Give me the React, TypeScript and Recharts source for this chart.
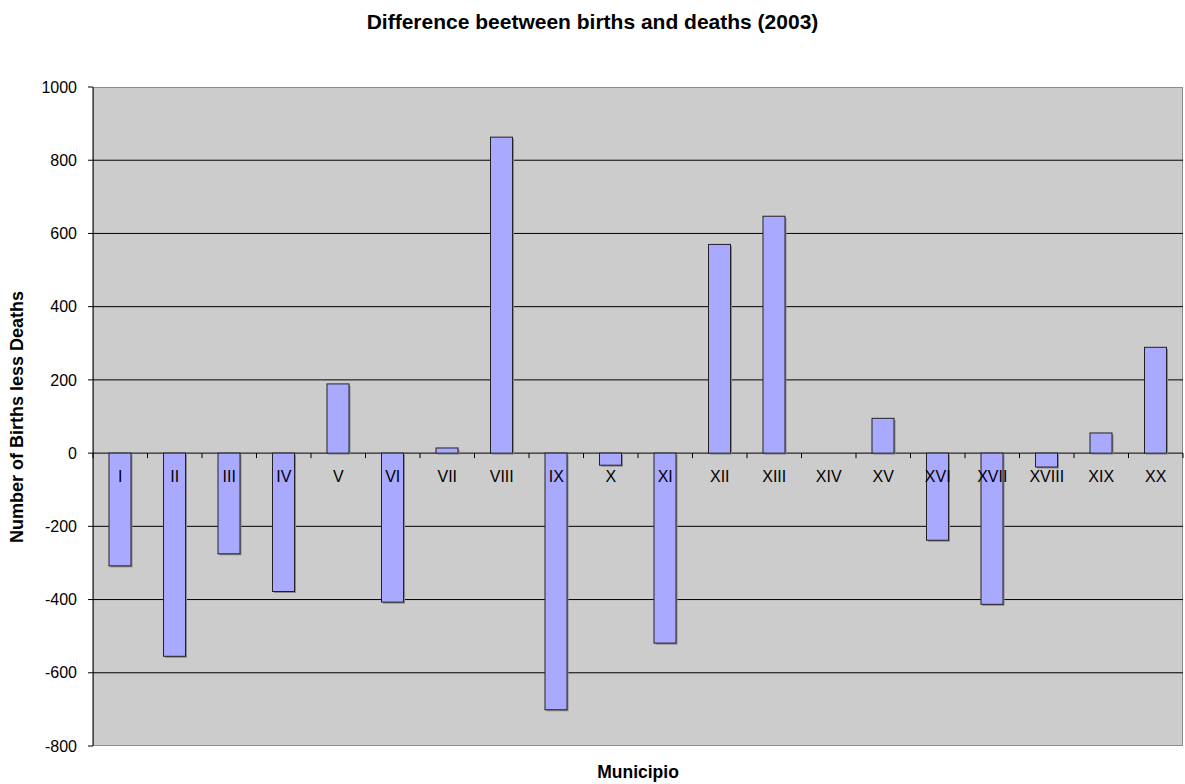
import React from "react";
import {
  BarChart,
  Bar,
  XAxis,
  YAxis,
  CartesianGrid,
} from "recharts";

const municipi = [
  "I", "II", "III", "IV", "V", "VI", "VII", "VIII", "IX", "X",
  "XI", "XII", "XIII", "XIV", "XV", "XVI", "XVII", "XVIII", "XIX", "XX",
];
const diff = [
  -308, -555, -275, -378, 189, -407, 14, 863, -701, -33,
  -519, 570, 647, 0, 95, -238, -413, -38, 55, 289,
];
const yTicks = [-800, -600, -400, -200, 0, 200, 400, 600, 800, 1000];
const gridValues = [-600, -400, -200, 0, 200, 400, 600, 800];
const Y_MIN = -800;
const Y_MAX = 1000;

const data = municipi.map((name, i) => ({ name, value: diff[i] }));

const W = 1185;
const H = 784;
const M = { top: 87, right: 2, bottom: 37, left: 0 };
const AXIS_W = 93;
const PLOT_W = W - M.left - M.right - AXIS_W;
const PLOT_H = H - M.top - M.bottom - 1; // x axis strip takes 1px
const BAND = PLOT_W / municipi.length;
const FONT = "'Liberation Sans', Arial, sans-serif";

// x axis labels sit along the zero line, not the plot bottom
function CategoryTick(props: any) {
  const { x, y, payload, index } = props;
  const zeroY = y - (PLOT_H * (0 - Y_MIN)) / (Y_MAX - Y_MIN);
  const left = x - BAND / 2;
  return (
    <g>
      <line x1={left} y1={zeroY} x2={left} y2={zeroY + 5} stroke="#000" />
      {index === municipi.length - 1 && (
        <line x1={left + BAND} y1={zeroY} x2={left + BAND} y2={zeroY + 5} stroke="#000" />
      )}
      <text x={x} y={zeroY + 29} textAnchor="middle" fontSize={16} fontFamily={FONT} fill="#000">
        {payload.value}
      </text>
    </g>
  );
}

function ShadowBar(props: any) {
  const { x, y, width, height, fill } = props;
  if (!height) return null;
  const top = Math.min(y, y + height);
  const h = Math.abs(height);
  return (
    <g>
      <rect x={x + 1.5} y={top + 1.5} width={width} height={h} fill="#8a8a8a" />
      <rect x={x} y={top} width={width} height={h} fill={fill} stroke="#222" strokeWidth={1} />
    </g>
  );
}

export default function App() {
  return (
    <div style={{ position: "absolute", left: 0, top: 0, width: W, height: H, background: "#fff", fontFamily: FONT }}>
      <div
        style={{
          position: "absolute",
          left: AXIS_W,
          top: M.top,
          width: PLOT_W,
          height: PLOT_H,
          boxSizing: "border-box",
          background: "#cccccc",
          border: "1.5px solid #8c8c8c",
        }}
      />
      <div style={{ position: "absolute", left: 0, top: 10, width: W, textAlign: "center", fontWeight: "bold", fontSize: 21 }}>
        Difference beetween births and deaths (2003)
      </div>
      <div style={{ position: "absolute", left: AXIS_W, top: 762, width: PLOT_W, textAlign: "center", fontWeight: "bold", fontSize: 17.5 }}>
        Municipio
      </div>
      <div
        style={{
          position: "absolute",
          left: 17,
          top: M.top + PLOT_H / 2,
          transform: "translate(-50%, -50%) rotate(-90deg)",
          whiteSpace: "nowrap",
          fontWeight: "bold",
          fontSize: 18,
        }}
      >
        Number of Births less Deaths
      </div>
      <div style={{ position: "absolute", left: 0, top: 0 }}>
        <BarChart width={W} height={H} data={data} margin={M} barCategoryGap={0}>
          <CartesianGrid
            vertical={false}
            horizontalValues={gridValues}
            stroke="#000"
            strokeOpacity={1}
          />
          <XAxis
            dataKey="name"
            height={1}
            axisLine={false}
            tickLine={false}
            tickSize={0}
            tickMargin={0}
            interval={0}
            tick={<CategoryTick />}
          />
          <YAxis
            domain={[Y_MIN, Y_MAX]}
            ticks={yTicks}
            allowDataOverflow
            width={AXIS_W}
            axisLine={{ stroke: "#000" }}
            tickLine={{ stroke: "#000" }}
            tickSize={5}
            tickMargin={11}
            tick={{ fill: "#000", fontSize: 16, fontFamily: FONT }}
          />
          <Bar
            dataKey="value"
            fill="#a9aaff"
            barSize={22}
            shape={<ShadowBar />}
            isAnimationActive={false}
          />
        </BarChart>
      </div>
    </div>
  );
}
